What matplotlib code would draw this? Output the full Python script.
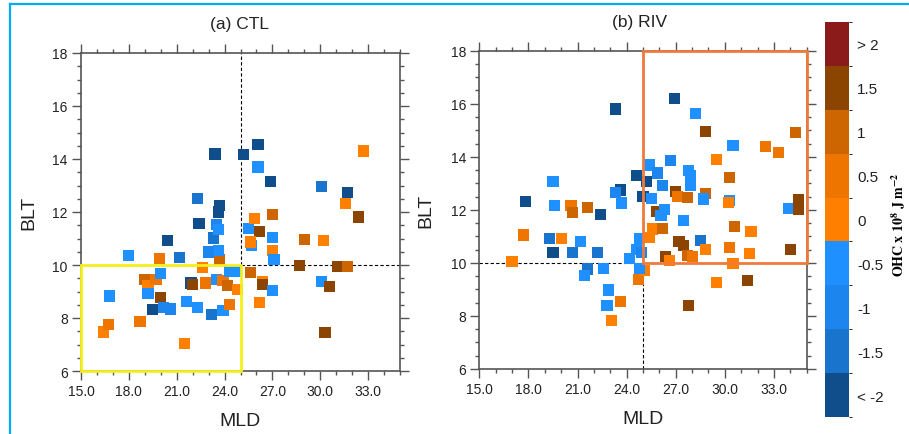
import numpy as np
import matplotlib
matplotlib.use("Agg")
import matplotlib.pyplot as plt
from matplotlib.colors import ListedColormap, BoundaryNorm
from matplotlib.lines import Line2D
from matplotlib.patches import Rectangle
import matplotlib.cm as cm

plt.rcParams['font.family'] = ['Liberation Sans', 'DejaVu Sans']
plt.rcParams['mathtext.fontset'] = 'stix'

# OHC classes (box centres of the colour bar)
ohc_levels = [-2.0, -1.5, -1.0, -0.5, 0.0, 0.5, 1.0, 1.5, 2.0]
ohc_labels = ["< -2", "-1.5", "-1", "-0.5", "0", "0.5", "1", "1.5", "> 2"]
ohc_colors = ['#104E8B', '#1874CD', '#1C86EE', '#1E90FF', '#FF7F00',
              '#EE7600', '#CD6600', '#8B4500', '#8B1A1A']

# (a) CTL
ctl_mld = [18.0, 16.8, 16.4, 16.7, 18.7, 19.0, 19.2, 19.7, 19.2, 20.0,
           20.0, 19.5, 20.2, 20.6, 19.9, 20.4, 21.2, 21.6, 21.5, 22.3,
           21.9, 22.0, 22.8, 22.6, 23.2, 23.9, 24.3, 23.5, 23.9, 24.2,
           24.8, 24.3, 24.7, 23.7, 23.6, 23.0, 23.3, 23.5, 23.6, 23.6,
           23.7, 22.4, 22.3, 23.4, 25.2, 26.1, 26.1, 26.9, 25.5, 25.9,
           26.2, 25.7, 25.6, 27.0, 27.0, 27.0, 27.1, 25.6, 26.4, 26.4,
           27.0, 26.2, 28.7, 29.0, 30.2, 30.1, 30.1, 30.6, 30.3, 31.1,
           31.7, 31.7, 31.6, 32.4, 32.7]
ctl_blt = [10.36, 8.83, 7.47, 7.76, 7.87, 9.45, 9.23, 9.46, 8.92, 9.67,
           8.79, 8.33, 8.41, 8.34, 10.24, 10.91, 10.29, 8.63, 7.04, 8.40,
           9.32, 9.27, 9.32, 9.92, 8.14, 8.29, 8.50, 9.45, 9.40, 9.21,
           9.07, 9.77, 9.74, 10.21, 10.55, 10.49, 11.02, 11.53, 11.35, 12.00,
           12.23, 11.56, 12.50, 14.19, 14.18, 14.54, 13.70, 13.16, 11.37, 11.77,
           11.28, 10.74, 10.87, 11.03, 11.90, 10.55, 10.21, 9.71, 9.36, 9.26,
           9.04, 8.57, 9.99, 10.97, 10.94, 12.97, 9.38, 9.18, 7.45, 9.94,
           9.95, 12.75, 12.31, 11.81, 14.30]
ctl_ohc = [-0.5, -0.5, 0.0, 0.5, 0.5, 1.0, 0.0, 0.5, -0.5, -0.5,
           1.5, -2.0, -1.0, -1.0, 0.5, -2.0, -1.5, -0.5, 0.0, -0.5,
           -2.0, 1.5, 0.5, 0.0, -1.5, -0.5, 0.5, -0.5, 0.5, 1.0,
           0.0, -0.5, -0.5, 1.0, -0.5, -1.0, -1.5, -1.0, -0.5, -2.0,
           -2.0, -2.0, -1.5, -2.0, -2.0, -2.0, -0.5, -2.0, -0.5, 0.0,
           1.5, -0.5, 0.0, -0.5, 1.0, 0.0, -0.5, 1.0, 0.0, 1.5,
           -0.5, 0.0, 1.5, 1.0, 0.0, -1.5, -0.5, 1.5, 1.5, 1.5,
           1.0, -2.0, 0.0, 1.5, 0.0]

# (b) RIV
riv_mld = [17.0, 17.7, 17.8, 19.5, 19.6, 19.3, 19.5, 20.0, 20.6, 20.7,
           21.6, 20.7, 21.2, 21.6, 21.4, 22.2, 22.4, 22.6, 22.9, 22.8,
           23.1, 23.6, 23.3, 23.6, 23.3, 23.7, 24.2, 24.6, 24.8, 24.9,
           24.6, 25.2, 25.0, 24.7, 25.1, 24.8, 25.4, 25.5, 25.4, 25.6,
           25.8, 25.9, 26.2, 26.3, 26.1, 26.2, 26.7, 26.9, 26.4, 26.6,
           27.0, 27.1, 27.7, 27.8, 27.9, 27.9, 27.5, 27.2, 27.5, 27.7,
           28.0, 28.2, 28.8, 28.8, 28.7, 28.5, 28.8, 27.8, 29.5, 29.5,
           30.5, 30.3, 30.3, 30.2, 30.6, 30.3, 30.5, 31.6, 31.5, 31.4,
           32.5, 33.3, 34.3, 33.9, 34.5, 34.5, 34.0]
riv_blt = [10.05, 11.05, 12.31, 13.06, 12.16, 10.92, 10.40, 10.92, 12.16, 11.90,
           12.09, 10.40, 10.81, 9.77, 9.54, 10.40, 11.84, 9.79, 8.98, 8.39,
           7.82, 8.54, 15.80, 12.75, 12.66, 12.26, 10.15, 10.52, 10.92, 10.40,
           13.29, 13.06, 12.50, 9.39, 9.71, 9.79, 13.69, 12.44, 10.95, 11.28,
           11.93, 13.39, 12.91, 12.00, 11.78, 11.30, 13.85, 16.20, 10.23, 10.08,
           12.68, 12.50, 12.47, 13.50, 13.29, 12.91, 11.59, 10.80, 10.65, 10.27,
           10.25, 15.64, 14.96, 12.62, 12.41, 10.84, 10.52, 8.39, 13.91, 9.27,
           14.42, 13.22, 12.34, 12.28, 11.36, 10.59, 9.98, 11.19, 10.36, 9.33,
           14.38, 14.17, 14.92, 12.06, 12.38, 12.00, 10.50]
riv_ohc = [0.0, 0.5, -2.0, -0.5, -0.5, -1.5, -2.0, 0.0, 0.5, 1.0,
           1.0, -1.5, -0.5, -1.5, -0.5, -1.5, -2.0, -0.5, -0.5, -0.5,
           0.0, 0.5, -2.0, -2.0, -1.0, -0.5, -0.5, -0.5, -0.5, -1.0,
           -2.0, -2.0, -2.0, 0.5, 0.0, -0.5, -0.5, -0.5, 0.0, 0.0,
           1.5, -1.0, -1.0, -0.5, -0.5, 1.0, -1.0, -2.0, 1.5, 0.0,
           1.5, 0.5, 1.0, -0.5, -0.5, -0.5, -0.5, 1.5, 1.5, 1.0,
           0.5, -0.5, 1.5, 1.0, -0.5, -1.5, 0.0, 1.5, 0.0, 0.0,
           -0.5, 1.0, -0.5, 0.0, 1.0, 0.5, 0.0, 0.0, 0.0, 1.5,
           0.5, 0.5, 1.0, -0.5, 1.5, 1.5, 1.5]

cmap = ListedColormap(ohc_colors)
bounds = np.arange(-2.25, 2.26, 0.5)
norm = BoundaryNorm(bounds, cmap.N)

W, H = 909, 435
fig = plt.figure(figsize=(W / 100, H / 100), dpi=100)


def px_axes(x0, y0, x1, y1):
    # pixel box (top-left origin) -> figure axes
    return fig.add_axes([x0 / W, 1 - y1 / H, (x1 - x0) / W, (y1 - y0) / H])


def style_axes(ax, title, title_x, title_y):
    ax.set_xlim(15, 35)
    ax.set_ylim(6, 18)
    ax.set_xticks(np.arange(15, 34, 3))
    ax.set_xticklabels(["%.1f" % v for v in np.arange(15, 34, 3)])
    ax.set_xticks(np.arange(15, 35.1, 1), minor=True)
    ax.set_yticks(np.arange(6, 18.1, 2))
    ax.set_yticks(np.arange(6, 18.1, 0.5), minor=True)
    ax.tick_params(which='both', direction='out', top=True, right=True,
                   color='#555555', labelsize=10, labelcolor='#222222', width=1.0)
    ax.tick_params(which='major', length=6.5, pad=3)
    ax.tick_params(which='minor', length=3)
    for s in ax.spines.values():
        s.set_color('#555555')
        s.set_linewidth(1.2)
    ax.set_xlabel("MLD", fontsize=14, color='#222222')
    ax.set_ylabel("BLT", fontsize=14, color='#222222')
    ax.xaxis.label.set_va('center')
    ax.yaxis.label.set_va('center')
    ax.xaxis.set_label_coords(0.5, -0.157)
    ax.yaxis.set_label_coords(-0.163, 0.5)
    fig.text(title_x / W, 1 - title_y / H, title, fontsize=12.5,
             ha='center', va='center', color='#222222')


dash = (0, (3, 2))

# (a) CTL
ax1 = px_axes(81, 54, 400, 372)
style_axes(ax1, "(a) CTL", 240, 25)
ax1.plot([25, 25], [10, 18], color='black', lw=0.8, ls=dash, zorder=1)
ax1.plot([25, 35], [10, 10], color='black', lw=0.8, ls=dash, zorder=1)
ax1.scatter(ctl_mld, ctl_blt, c=ctl_ohc, cmap=cmap, norm=norm, marker='s',
            s=64, linewidths=0, zorder=3)
ax1.add_patch(Rectangle((15, 6), 10, 4, fill=False, edgecolor='#F5F01A',
                        lw=2.0, zorder=4, clip_on=False))

# (b) RIV
ax2 = px_axes(479.3, 51.7, 806.7, 370)
style_axes(ax2, "(b) RIV", 640, 23)
ax2.plot([15, 25], [10, 10], color='black', lw=0.8, ls=dash, zorder=1)
ax2.plot([25, 25], [6, 10], color='black', lw=0.8, ls=dash, zorder=1)
ax2.scatter(riv_mld, riv_blt, c=riv_ohc, cmap=cmap, norm=norm, marker='s',
            s=64, linewidths=0, zorder=3)
ax2.add_patch(Rectangle((25, 10), 10, 8, fill=False, edgecolor='#F07A3C',
                        lw=2.0, zorder=4, clip_on=False))

# colour bar
cax = px_axes(825, 22.7, 849, 418.3)
sm = cm.ScalarMappable(norm=norm, cmap=cmap)
cb = fig.colorbar(sm, cax=cax, ticks=ohc_levels)
cb.ax.set_yticklabels(ohc_labels)
cb.outline.set_visible(False)
cb.ax.tick_params(length=0, labelsize=11, pad=6, labelcolor='#222222')
fig.text(899 / W, 1 - 225 / H, r"$\mathbf{OHC\ x\ 10^{8}\ J\ m^{-2}}$",
         rotation=90, ha='center', va='center', fontsize=10)

# figure frame (only top and left edges visible)
fig.add_artist(Line2D([10 / W, 10 / W], [0, 1 - 5 / H], color='#00AEEF',
                      lw=1.6, transform=fig.transFigure))
fig.add_artist(Line2D([10 / W, 1], [1 - 5 / H, 1 - 5 / H], color='#00AEEF',
                      lw=1.6, transform=fig.transFigure))

fig.savefig("out.png", dpi=100)
